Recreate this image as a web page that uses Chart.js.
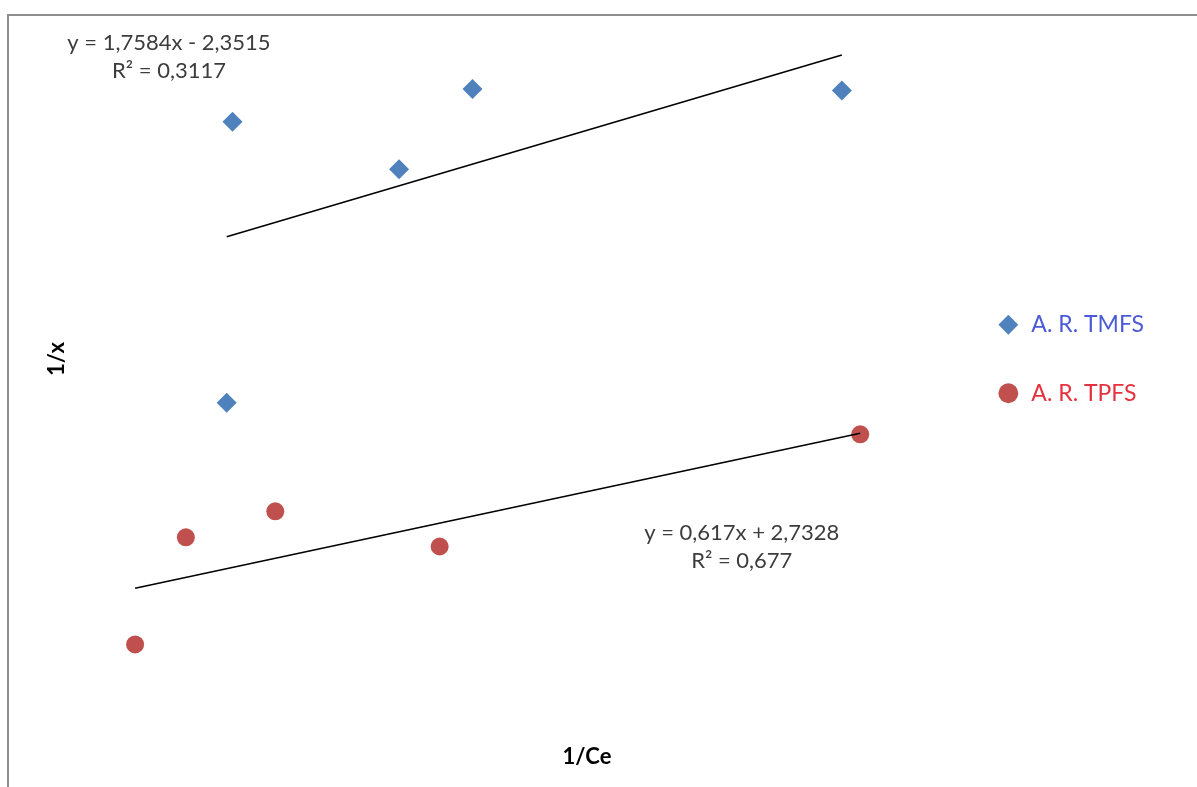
<!DOCTYPE html>
<html>
<head>
<meta charset="utf-8">
<title>1/x vs 1/Ce</title>
<script src="https://cdn.jsdelivr.net/npm/chart.js@4/dist/chart.umd.min.js"></script>
<style>
  html, body { margin: 0; padding: 0; background: #ffffff; overflow: hidden; }
  #wrap { position: relative; width: 1197px; height: 787px; }
  #frame {
    position: absolute; left: 7px; top: 14px; width: 1300px; height: 900px;
    border-left: 2px solid #8f8f8f; border-top: 2px solid #8f8f8f;
  }
  #chart { position: absolute; left: 0; top: 0; }
</style>
</head>
<body>
<div id="wrap">
  <div id="frame"></div>
  <canvas id="chart" width="1197" height="787"></canvas>
</div>
<script>
// Series names
const seriesNames = ['A. R. TMFS', 'A. R. TPFS'];

// A. R. TMFS: 1/Ce and 1/x
const tmfsX = [4.403, 5.092, 5.396, 6.924, 4.379];
const tmfsY = [8.18, 7.01, 8.99, 8.95, 1.26];

// A. R. TPFS: 1/Ce and 1/x
const tpfsX = [4.00, 4.21, 4.58, 5.26, 7.00];
const tpfsY = [4.53, 5.81, 6.12, 5.70, 7.04];

// Linear trendlines (slope, intercept, R²)
const fitSlopes = [1.7584, 0.617];
const fitIntercepts = [-2.3515, 2.7328];
const fitR2 = [0.3117, 0.677];

// Anchors of the equation labels, in data units of each series' axes
const eqAnchorX = [4.14, 6.51];
const eqAnchorY = [10.12, 5.86];

const markerColors = ['#4F81BD', '#C0504D'];
const legendTextColors = ['#4B5BD6', '#E5303E'];
const axisIds = ['y', 'y2'];
const FONT = 'Lato, "Open Sans", sans-serif';

const toPoints = (xs, ys) => xs.map((x, i) => ({ x: x, y: ys[i] }));
const trendPoints = (xs, k) => {
  const lo = Math.min(...xs), hi = Math.max(...xs);
  return [lo, hi].map(x => ({ x: x, y: fitSlopes[k] * x + fitIntercepts[k] }));
};
const fmt = v => String(Math.abs(v)).replace('.', ',');

// Draws the trendline equations and R² values
const equationLabels = {
  id: 'equationLabels',
  afterDatasetsDraw(chart) {
    const ctx = chart.ctx;
    ctx.save();
    ctx.font = '22px ' + FONT;
    ctx.fillStyle = '#3c3c3c';
    ctx.textAlign = 'center';
    ctx.textBaseline = 'middle';
    fitSlopes.forEach((s, k) => {
      const px = chart.scales.x.getPixelForValue(eqAnchorX[k]);
      const py = chart.scales[axisIds[k]].getPixelForValue(eqAnchorY[k]);
      const b = fitIntercepts[k];
      const eq = 'y = ' + fmt(s) + 'x ' + (b < 0 ? '- ' : '+ ') + fmt(b);
      ctx.fillText(eq, px, py);
      ctx.fillText('R\u00B2 = ' + fmt(fitR2[k]), px, py + 28);
    });
    ctx.restore();
  }
};

const baseLabels = Chart.defaults.plugins.legend.labels.generateLabels;

new Chart(document.getElementById('chart'), {
  type: 'scatter',
  data: {
    datasets: [
      {
        label: seriesNames[0],
        data: toPoints(tmfsX, tmfsY),
        yAxisID: 'y',
        pointStyle: 'rectRot',
        pointRadius: 10,
        pointHoverRadius: 10,
        backgroundColor: markerColors[0],
        borderColor: markerColors[0],
        borderWidth: 0
      },
      {
        label: seriesNames[1],
        data: toPoints(tpfsX, tpfsY),
        yAxisID: 'y2',
        pointStyle: 'circle',
        pointRadius: 9,
        pointHoverRadius: 9,
        backgroundColor: markerColors[1],
        borderColor: markerColors[1],
        borderWidth: 0
      },
      {
        label: 'trend TMFS',
        data: trendPoints(tmfsX, 0),
        yAxisID: 'y',
        showLine: true,
        pointRadius: 0,
        borderColor: '#000000',
        borderWidth: 1.6,
        order: -1
      },
      {
        label: 'trend TPFS',
        data: trendPoints(tpfsX, 1),
        yAxisID: 'y2',
        showLine: true,
        pointRadius: 0,
        borderColor: '#000000',
        borderWidth: 1.6,
        order: -1
      }
    ]
  },
  options: {
    responsive: false,
    animation: false,
    devicePixelRatio: 1,
    layout: { padding: { left: 20, right: 43, top: 16, bottom: 0 } },
    scales: {
      x: { type: 'linear', min: 3.748, max: 7.377, display: false },
      y: {
        type: 'linear', position: 'left', min: -6.116, max: 10.787,
        ticks: { display: false },
        grid: { display: false, drawTicks: false },
        border: { display: false },
        title: {
          display: true, text: '1/x', color: '#000000',
          font: { family: FONT, size: 22, weight: 'bold' },
          padding: { top: 23.8, bottom: 4 }
        }
      },
      y2: { type: 'linear', position: 'right', min: 3.843, max: 12.035, display: false }
    },
    plugins: {
      tooltip: { enabled: false },
      title: {
        display: true, position: 'bottom', text: '1/Ce', color: '#000000',
        font: { family: FONT, size: 22, weight: 'bold' },
        padding: { top: 41.8, bottom: 16.8 }
      },
      legend: {
        position: 'right',
        align: 'center',
        fullSize: false,
        labels: {
          usePointStyle: true,
          boxWidth: 23,
          boxHeight: 14,
          padding: 45.5,
          textAlign: 'left',
          font: { family: FONT, size: 23 },
          filter: item => item.datasetIndex < 2,
          generateLabels: chart => baseLabels(chart).map(item => {
            if (item.datasetIndex < 2) item.fontColor = legendTextColors[item.datasetIndex];
            return item;
          })
        }
      }
    }
  },
  plugins: [equationLabels]
});
</script>
</body>
</html>
